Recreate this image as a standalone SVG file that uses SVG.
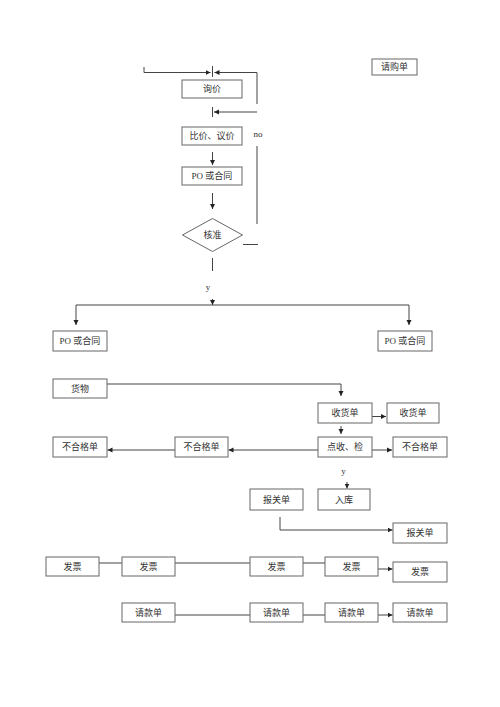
<svg xmlns="http://www.w3.org/2000/svg" width="500" height="707" viewBox="0 0 500 707">
<defs>
<marker id="ah" markerUnits="userSpaceOnUse" markerWidth="6" markerHeight="6" refX="5" refY="3" orient="auto">
<path d="M0,0.5 L5,3 L0,5.5 Z" fill="#222"/>
</marker>
<style>
.b{fill:#fff;stroke:#666;stroke-width:1}
.t{font-family:"Liberation Serif","Noto Sans CJK SC",serif;font-size:9px;fill:#333;text-anchor:middle;dominant-baseline:central}
.c path{fill:none;stroke:#444;stroke-width:1}
.a{marker-end:url(#ah)}
</style>
</defs>
<rect width="500" height="707" fill="#fff"/>
<g class="c" id="connectors">
<path class="a" d="M144,67 V72.5 H210.5"/>
<path d="M212.5,66 V77"/>
<path class="a" d="M257,72.5 H214.5"/>
<path d="M257,72.5 V104"/>
<path class="a" d="M257,112 H214"/>
<path d="M212.5,107 V117"/>
<path d="M257,146 V224"/>
<path d="M243,244.5 H258"/>
<path class="a" d="M212.5,152 V165"/>
<path class="a" d="M212.5,193 V209"/>
<path d="M212.5,258 V271"/>
<path class="a" d="M212.5,299 V305"/>
<path class="a" d="M76,305 V325"/>
<path class="a" d="M76,305 H409 V325"/>
<path class="a" d="M107,384 H341 V396"/>
<path class="a" d="M372,416.5 H386"/>
<path class="a" d="M341,426 V434"/>
<path class="a" d="M372,450 H392"/>
<path class="a" d="M318,450 H228.5"/>
<path class="a" d="M175,450 H107.5"/>
<path class="a" d="M347,482 V488.5"/>
<path class="a" d="M280,517 V530 H392.5"/>
<path d="M99,563 H122"/>
<path d="M175,563 H250"/>
<path d="M303,563 H325"/>
<path class="a" d="M378,569 H392.5"/>
<path d="M175,615 H250"/>
<path d="M303,615 H325"/>
<path class="a" d="M378,615 H392.5"/>
</g>
<text class="t" x="258" y="134">no</text>
<text class="t" x="208" y="287">y</text>
<text class="t" x="343.5" y="471">y</text>
<g id="n-qgd"><rect class="b" x="372" y="59" width="45" height="16"/><text class="t" x="394.5" y="67">请购单</text></g>
<g id="n-xj"><rect class="b" x="182" y="80" width="60" height="18"/><text class="t" x="212" y="89">询价</text></g>
<g id="n-bj"><rect class="b" x="182" y="127" width="60" height="18"/><text class="t" x="212" y="136">比价、议价</text></g>
<g id="n-po"><rect class="b" x="182" y="167" width="60" height="18"/><text class="t" x="212" y="176">PO 或合同</text></g>
<g id="n-hz"><polygon class="b" points="182.5,235 212.5,218.5 242.5,235 212.5,251.5"/><text class="t" x="212.5" y="235">核准</text></g>
<g id="n-po-l"><rect class="b" x="53" y="331" width="54" height="20"/><text class="t" x="80" y="341">PO 或合同</text></g>
<g id="n-po-r"><rect class="b" x="378" y="331" width="54" height="20"/><text class="t" x="405" y="341">PO 或合同</text></g>
<g id="n-hw"><rect class="b" x="53" y="379" width="54" height="19"/><text class="t" x="80" y="388.5">货物</text></g>
<g id="n-shd1"><rect class="b" x="318" y="403" width="54" height="20"/><text class="t" x="345" y="413">收货单</text></g>
<g id="n-shd2"><rect class="b" x="387" y="403" width="52" height="20"/><text class="t" x="413" y="413">收货单</text></g>
<g id="n-dsj"><rect class="b" x="318" y="437" width="54" height="20"/><text class="t" x="345" y="447">点收、检</text></g>
<g id="n-bhg-r"><rect class="b" x="393" y="437" width="54" height="20"/><text class="t" x="420" y="447">不合格单</text></g>
<g id="n-bhg-m"><rect class="b" x="175" y="437" width="53" height="20"/><text class="t" x="201.5" y="447">不合格单</text></g>
<g id="n-bhg-l"><rect class="b" x="53" y="437" width="54" height="20"/><text class="t" x="80" y="447">不合格单</text></g>
<g id="n-bgd1"><rect class="b" x="250" y="489" width="53" height="21"/><text class="t" x="276.5" y="499.5">报关单</text></g>
<g id="n-rk"><rect class="b" x="318" y="489" width="52" height="21"/><text class="t" x="344" y="499.5">入库</text></g>
<g id="n-bgd2"><rect class="b" x="393" y="523" width="54" height="20"/><text class="t" x="420" y="533">报关单</text></g>
<g id="n-fp1"><rect class="b" x="46" y="557" width="53" height="19"/><text class="t" x="72.5" y="566.5">发票</text></g>
<g id="n-fp2"><rect class="b" x="122" y="557" width="53" height="19"/><text class="t" x="148.5" y="566.5">发票</text></g>
<g id="n-fp3"><rect class="b" x="250" y="557" width="53" height="19"/><text class="t" x="276.5" y="566.5">发票</text></g>
<g id="n-fp4"><rect class="b" x="325" y="557" width="53" height="19"/><text class="t" x="351.5" y="566.5">发票</text></g>
<g id="n-fp5"><rect class="b" x="393" y="562" width="54" height="20"/><text class="t" x="420" y="572">发票</text></g>
<g id="n-qk1"><rect class="b" x="122" y="603" width="53" height="19"/><text class="t" x="148.5" y="612.5">请款单</text></g>
<g id="n-qk2"><rect class="b" x="250" y="603" width="53" height="19"/><text class="t" x="276.5" y="612.5">请款单</text></g>
<g id="n-qk3"><rect class="b" x="325" y="603" width="53" height="19"/><text class="t" x="351.5" y="612.5">请款单</text></g>
<g id="n-qk4"><rect class="b" x="393" y="603" width="54" height="19"/><text class="t" x="420" y="612.5">请款单</text></g>
</svg>
